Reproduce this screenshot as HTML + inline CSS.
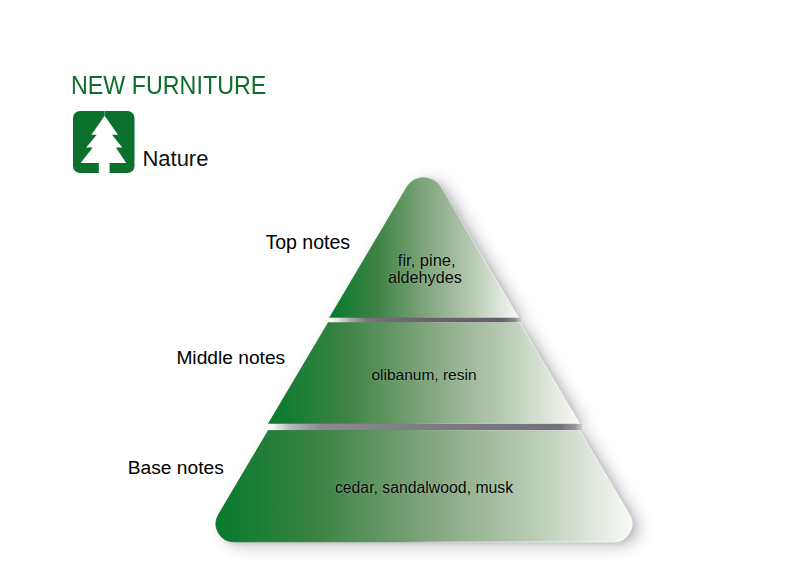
<!DOCTYPE html>
<html><head><meta charset="utf-8">
<style>
html,body{margin:0;padding:0;background:#fff;width:800px;height:566px;overflow:hidden}
body{position:relative;font-family:"Liberation Sans",sans-serif}
.t{position:absolute;white-space:nowrap;line-height:1}
svg{position:absolute;left:0;top:0}
</style></head><body>
<svg width="800" height="566" viewBox="0 0 800 566">
<defs>
<filter id="sh" x="-30%" y="-30%" width="160%" height="160%">
<feGaussianBlur in="SourceAlpha" stdDeviation="2.5" result="b1"/>
<feOffset in="b1" dx="3" dy="1" result="o1"/>
<feGaussianBlur in="SourceAlpha" stdDeviation="8" result="b2"/>
<feOffset in="b2" dx="7" dy="4" result="o2"/>
<feComponentTransfer in="o1" result="a1"><feFuncA type="linear" slope="0.22"/></feComponentTransfer>
<feComponentTransfer in="o2" result="a2"><feFuncA type="linear" slope="0.5"/></feComponentTransfer>
<feMerge result="m"><feMergeNode in="a2"/><feMergeNode in="a1"/></feMerge>
<feColorMatrix in="m" type="matrix" values="0 0 0 0 0.22  0 0 0 0 0.22  0 0 0 0 0.24  0 0 0 1 0"/>
</filter>
<linearGradient id="g1" gradientUnits="userSpaceOnUse" x1="329.4" y1="0" x2="518.6" y2="0">
<stop offset="0" stop-color="#077a2d"/><stop offset="0.25" stop-color="#3d8345"/><stop offset="0.5" stop-color="#7ea47b"/><stop offset="0.75" stop-color="#b6c9b1"/><stop offset="1" stop-color="#f8f9f6"/></linearGradient>
<linearGradient id="g2" gradientUnits="userSpaceOnUse" x1="268.4" y1="0" x2="579.6" y2="0">
<stop offset="0" stop-color="#077a2d"/><stop offset="0.25" stop-color="#3d8345"/><stop offset="0.5" stop-color="#7ea47b"/><stop offset="0.75" stop-color="#b6c9b1"/><stop offset="1" stop-color="#f8f9f6"/></linearGradient>
<linearGradient id="g3" gradientUnits="userSpaceOnUse" x1="216" y1="0" x2="632" y2="0">
<stop offset="0" stop-color="#077a2d"/><stop offset="0.25" stop-color="#3d8345"/><stop offset="0.5" stop-color="#7ea47b"/><stop offset="0.75" stop-color="#b6c9b1"/><stop offset="1" stop-color="#f8f9f6"/></linearGradient>
<linearGradient id="gb1" gradientUnits="userSpaceOnUse" x1="329" y1="0" x2="521" y2="0">
<stop offset="0" stop-color="#ffffff"/><stop offset="0.03" stop-color="#f4f2f4"/><stop offset="0.11" stop-color="#b0a9b1"/><stop offset="0.2" stop-color="#7a737d"/><stop offset="0.5" stop-color="#68626b"/><stop offset="0.9" stop-color="#645f68"/><stop offset="0.97" stop-color="#7a7680" stop-opacity="0.8"/><stop offset="1" stop-color="#a09ca4" stop-opacity="0.3"/></linearGradient>
<linearGradient id="gb2" gradientUnits="userSpaceOnUse" x1="268" y1="0" x2="582" y2="0">
<stop offset="0" stop-color="#ffffff"/><stop offset="0.02" stop-color="#f4f2f4"/><stop offset="0.07" stop-color="#bab6bc"/><stop offset="0.17" stop-color="#8c8892"/><stop offset="0.5" stop-color="#7e7a81"/><stop offset="0.93" stop-color="#74707a"/><stop offset="0.98" stop-color="#8a868e" stop-opacity="0.8"/><stop offset="1" stop-color="#a09ca4" stop-opacity="0.3"/></linearGradient>
<linearGradient id="gs1" gradientUnits="userSpaceOnUse" x1="329.4" y1="0" x2="518.6" y2="0"><stop offset="0" stop-color="#006a1a" stop-opacity="0.75"/><stop offset="0.45" stop-color="#3a9444" stop-opacity="0.6"/><stop offset="0.56" stop-color="#ffffff" stop-opacity="0.3"/><stop offset="1" stop-color="#ffffff" stop-opacity="0.85"/></linearGradient>
<linearGradient id="gs2" gradientUnits="userSpaceOnUse" x1="268.4" y1="0" x2="579.6" y2="0"><stop offset="0" stop-color="#006a1a" stop-opacity="0.75"/><stop offset="0.45" stop-color="#3a9444" stop-opacity="0.6"/><stop offset="0.56" stop-color="#ffffff" stop-opacity="0.3"/><stop offset="1" stop-color="#ffffff" stop-opacity="0.85"/></linearGradient>
<linearGradient id="gs3" gradientUnits="userSpaceOnUse" x1="216" y1="0" x2="632" y2="0"><stop offset="0" stop-color="#006a1a" stop-opacity="0.75"/><stop offset="0.45" stop-color="#3a9444" stop-opacity="0.6"/><stop offset="0.56" stop-color="#ffffff" stop-opacity="0.3"/><stop offset="1" stop-color="#ffffff" stop-opacity="0.85"/></linearGradient>
<filter id="bl" x="-5%" y="-100%" width="110%" height="300%"><feGaussianBlur stdDeviation="0.5"/></filter>
</defs>
<g filter="url(#sh)">
<path d="M406.79,187.27 A20,20 0 0 1 441.21,187.27 L518.60,318.00 L329.40,318.00 Z"/>
<path d="M328.51,322.20 L519.49,322.20 L579.64,423.80 L268.36,423.80 Z"/>
<path d="M268.60,430.00 L579.40,430.00 L629.50,514.63 A18,18 0 0 1 614.01,541.80 L233.99,541.80 A18,18 0 0 1 218.50,514.63 Z"/>
</g>
<path d="M406.79,187.27 A20,20 0 0 1 441.21,187.27 L518.60,318.00 L329.40,318.00 Z" fill="url(#g1)"/>
<path d="M328.51,322.20 L519.49,322.20 L579.64,423.80 L268.36,423.80 Z" fill="url(#g2)"/>
<path d="M268.60,430.00 L579.40,430.00 L629.50,514.63 A18,18 0 0 1 614.01,541.80 L233.99,541.80 A18,18 0 0 1 218.50,514.63 Z" fill="url(#g3)"/>
<g fill="none" stroke-width="1" stroke-linejoin="round">
<path d="M406.79,187.27 A20,20 0 0 1 441.21,187.27 L518.60,318.00 L329.40,318.00 Z" stroke="url(#gs1)"/>
<path d="M328.51,322.20 L519.49,322.20 L579.64,423.80 L268.36,423.80 Z" stroke="url(#gs2)"/>
<path d="M268.60,430.00 L579.40,430.00 L629.50,514.63 A18,18 0 0 1 614.01,541.80 L233.99,541.80 A18,18 0 0 1 218.50,514.63 Z" stroke="url(#gs3)"/>
</g>
<rect x="329" y="317.7" width="192" height="4.5" fill="url(#gb1)" filter="url(#bl)"/>
<rect x="268" y="423.8" width="314" height="6.3" fill="url(#gb2)" filter="url(#bl)"/>
<!-- icon -->
<rect x="73" y="111" width="61.5" height="62" rx="7" fill="#0b702c"/>
<path d="M104.6,115.8 L91.4,134.7 L96.7,134.7 L86.2,147.6 L92.8,147.6 L80.6,163 L98.8,163 L98.8,173 L109.6,173 L109.6,163 L126.2,163 L115.9,147.6 L122.3,147.6 L112,134.7 L118,134.7 Z" fill="#fff"/>
<rect x="104.1" y="111" width="1" height="5" fill="#fff" opacity="0.35"/>
</svg>
<div class="t" style="left:70.9px;top:72.8px;font-size:24px;color:#0d6e2a;transform-origin:0 0;transform:scale(0.97,1.07)">NEW FURNITURE</div>
<div class="t" style="left:142.4px;top:148px;font-size:22px;color:#111">Nature</div>
<div class="t" style="left:265.5px;top:233px;font-size:19.5px;color:#000">Top notes</div>
<div class="t" style="left:176.4px;top:347.8px;font-size:19.2px;color:#000">Middle notes</div>
<div class="t" style="left:127.75px;top:458px;font-size:19.2px;color:#000">Base notes</div>
<div class="t" style="left:397.8px;top:251.8px;font-size:16.5px;color:#050505;text-shadow:0 0 2px rgba(210,240,205,0.5)">fir, pine,</div>
<div class="t" style="left:388px;top:268.8px;font-size:16.2px;color:#050505;text-shadow:0 0 2px rgba(210,240,205,0.5)">aldehydes</div>
<div class="t" style="left:371.4px;top:366.6px;font-size:15.5px;color:#050505;text-shadow:0 0 2px rgba(210,240,205,0.5)">olibanum, resin</div>
<div class="t" style="left:334.9px;top:479.5px;font-size:15.8px;color:#050505;text-shadow:0 0 2px rgba(210,240,205,0.5)">cedar, sandalwood, musk</div>
</body></html>
